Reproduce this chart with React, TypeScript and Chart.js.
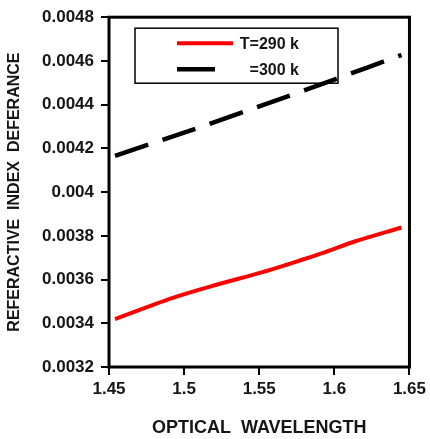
import React, { useEffect, useRef } from "react";
import { Chart, registerables } from "chart.js";

Chart.register(...registerables);

const seriesLabels = ["T=290 k", "=300 k"];
const xTitle = "OPTICAL  WAVELENGTH";
const yTitle = "REFERACTIVE  INDEX  DEFERANCE";

const redX = [1.454, 1.4919, 1.5204, 1.5517, 1.567, 1.5935, 1.6135, 1.6447];
const redY = [0.003419, 0.003515, 0.003574, 0.003633, 0.003665, 0.003724, 0.003774, 0.003838];

const blackX = [1.454, 1.5, 1.55, 1.6, 1.6447];
const blackY = [0.004166, 0.004272, 0.004392, 0.004515, 0.004627];

const xTicks = [1.45, 1.5, 1.55, 1.6, 1.65];
const yTicks = [0.0032, 0.0034, 0.0036, 0.0038, 0.004, 0.0042, 0.0044, 0.0046, 0.0048];

const FONT = "'Liberation Sans', Arial, sans-serif";
const TEXT = "#151515";

const framePlugin = {
  id: "frame",
  afterDraw(chart: any) {
    const { ctx, chartArea } = chart;
    ctx.save();
    ctx.strokeStyle = "#000";
    ctx.lineWidth = 3;
    ctx.strokeRect(chartArea.left, chartArea.top, chartArea.right - chartArea.left, chartArea.bottom - chartArea.top);
    // legend box
    const bx = chartArea.left + 26;
    const by = chartArea.top + 11;
    ctx.lineWidth = 1.5;
    ctx.strokeRect(bx, by, 203, 55);
    const ds = chart.data.datasets;
    const rows = [by + 15, by + 41];
    const lens = [56, 38];
    ds.forEach((d: any, i: number) => {
      ctx.save();
      ctx.strokeStyle = d.borderColor;
      ctx.lineWidth = d.borderWidth;
      ctx.beginPath();
      ctx.moveTo(bx + 42, rows[i]);
      ctx.lineTo(bx + 42 + lens[i], rows[i]);
      ctx.stroke();
      ctx.restore();
      ctx.fillStyle = TEXT;
      ctx.font = `bold 16px ${FONT}`;
      ctx.textAlign = "right";
      ctx.textBaseline = "middle";
      ctx.fillText(d.label, bx + 164, rows[i] + 1);
    });
    ctx.restore();
  },
};

export default function App() {
  const ref = useRef<HTMLCanvasElement | null>(null);
  useEffect(() => {
    if (!ref.current) return;
    const chart = new Chart(ref.current, {
      type: "line",
      data: {
        datasets: [
          {
            label: seriesLabels[0],
            data: redX.map((x, i) => ({ x, y: redY[i] })),
            borderColor: "#ff0000",
            borderWidth: 4,
            pointRadius: 0,
            tension: 0.3,
            fill: false,
          },
          {
            label: seriesLabels[1],
            data: blackX.map((x, i) => ({ x, y: blackY[i] })),
            borderColor: "#000000",
            borderWidth: 4.5,
            borderDash: [35, 15],
            pointRadius: 0,
            tension: 0.3,
            fill: false,
          },
        ],
      },
      options: {
        animation: false,
        responsive: false,
        devicePixelRatio: 1,
        layout: { padding: { left: 0, right: 20, top: 16, bottom: 0 } },
        plugins: { legend: { display: false }, tooltip: { enabled: false } },
        scales: {
          x: {
            type: "linear",
            min: xTicks[0],
            max: xTicks[xTicks.length - 1],
            afterBuildTicks: (s: any) => {
              s.ticks = xTicks.map((v) => ({ value: v }));
            },
            afterFit: (s: any) => {
              s.height = 72;
            },
            grid: { display: true, drawOnChartArea: false, drawTicks: true, tickLength: 8, color: "#000", lineWidth: 2 },
            border: { display: false },
            ticks: {
              padding: 4,
              color: TEXT,
              font: { family: FONT, size: 17, weight: "bold" },
              callback: (v: any) => String(Number(Number(v).toFixed(2))),
            },
            title: {
              display: true,
              text: xTitle,
              color: TEXT,
              font: { family: FONT, size: 18, weight: "bold" },
              padding: { top: 0, bottom: 0 },
            },
          },
          y: {
            type: "linear",
            min: yTicks[0],
            max: yTicks[yTicks.length - 1],
            afterBuildTicks: (s: any) => {
              s.ticks = yTicks.map((v) => ({ value: v }));
            },
            afterFit: (s: any) => {
              s.width = 109;
            },
            grid: { display: true, drawOnChartArea: false, drawTicks: true, tickLength: 8, color: "#000", lineWidth: 2 },
            border: { display: false },
            ticks: {
              padding: 7,
              color: TEXT,
              font: { family: FONT, size: 17, weight: "bold" },
              callback: (v: any) => String(Number(Number(v).toFixed(4))),
            },
            title: {
              display: true,
              text: yTitle,
              color: TEXT,
              font: { family: FONT, size: 16, weight: "bold" },
              padding: { top: 5, bottom: 0 },
            },
          },
        },
      },
      plugins: [framePlugin],
    } as any);
    return () => chart.destroy();
  }, []);
  return (
    <div style={{ position: "fixed", left: 0, top: 0, width: 430, height: 439, background: "#fff" }}>
      <canvas ref={ref} width={430} height={439} />
    </div>
  );
}
